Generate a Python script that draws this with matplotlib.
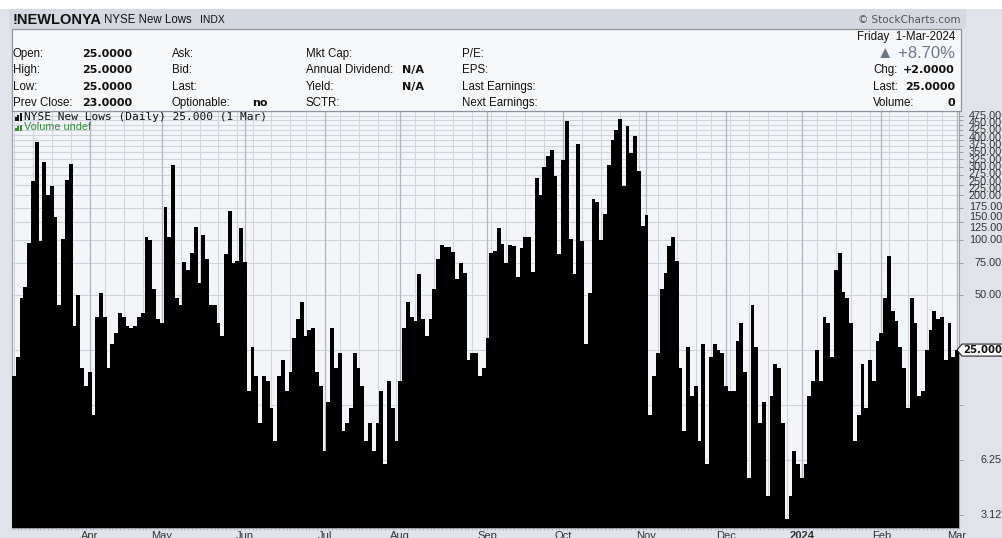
import numpy as np
import pandas as pd
import matplotlib
matplotlib.use("Agg")
import matplotlib.pyplot as plt
from matplotlib.patches import Rectangle, Polygon
from matplotlib.ticker import NullLocator, FixedLocator

# ---------------- data ----------------
new_lows = [
    18, 23, 48, 55, 96, 210, 342, 99, 265, 176,
    197, 133, 44, 101, 213, 260, 34, 50, 20, 16,
    19, 11, 38, 51, 38, 20, 27, 31, 40, 38,
    34, 33, 34, 38, 40, 103, 100, 54, 37, 35,
    152, 103, 255, 48, 44, 76, 68, 85, 117, 58,
    106, 79, 44, 44, 35, 30, 84, 143, 75, 77,
    116, 76, 15, 26, 18, 10, 18, 17, 12, 8,
    18, 22, 15, 19, 29, 37, 46, 30, 32, 33,
    19, 16, 7, 13, 33, 20, 24, 9, 10, 12,
    24, 20, 16, 8, 10, 7, 10, 15, 6, 17,
    12, 8, 17, 33, 46, 38, 36, 65, 37, 30,
    37, 54, 79, 94, 91, 91, 86, 61, 75, 66,
    22, 24, 24, 18, 20, 29, 85, 87, 116, 95,
    75, 94, 93, 63, 90, 103, 103, 67, 218, 175,
    249, 286, 308, 222, 84, 274, 444, 101, 65, 334,
    98, 27, 51, 166, 161, 100, 139, 255, 350, 400,
    458, 197, 417, 298, 368, 239, 119, 137, 11, 18,
    24, 54, 66, 92, 104, 77, 20, 9, 26, 14,
    16, 8, 27, 6, 23, 27, 25, 24, 16, 15,
    15, 28, 35, 19, 5, 44, 26, 10, 13, 4,
    14, 21, 20, 10, 3, 4, 7, 6, 5, 6,
    14, 17, 25, 17, 38, 35, 23, 68, 85, 52,
    48, 35, 8, 11, 21, 12, 22, 17, 28, 31,
    48, 82, 41, 36, 26, 20, 12, 48, 35, 14,
    15, 25, 32, 41, 37, 38, 22, 35, 23, 25,
]
start_date = "2023-03-06"
end_date = "2024-03-01"
market_holidays = ["2023-04-07", "2023-05-29", "2023-06-19", "2023-07-04",
                   "2023-09-04", "2023-11-23", "2023-12-25", "2024-01-01",
                   "2024-01-15", "2024-02-19"]
month_names = ["Jan", "Feb", "Mar", "Apr", "May", "Jun", "Jul", "Aug",
               "Sep", "Oct", "Nov", "Dec"]
right_tick_values = [3.125, 6.25, 12.5, 25, 50, 75, 100, 125, 150, 175, 200,
                     225, 250, 275, 300, 325, 350, 375, 400, 425, 450, 475]
right_tick_labels = ["3.12", "6.25", "", "", "50.00", "75.00", "100.00",
                     "125.00", "150.00", "175.00", "200.00", "225.00",
                     "250.00", "275.00", "300.00", "325.00", "350.00",
                     "375.00", "400.00", "425.00", "450.00", "475.00"]
last_value = 25.0

dates = pd.bdate_range(start_date, end_date)
dates = dates[~dates.isin(pd.to_datetime(market_holidays))]
n = len(new_lows)
dates = dates[:n]

# ---------------- figure ----------------
W, H = 1003, 538
fig = plt.figure(figsize=(W / 100, H / 100), dpi=100)
fig.patch.set_facecolor("#e0e3ea")

def fx(x):
    return x / W

def fy(y):
    return 1 - y / H

def T(x, y, s, **kw):
    kw.setdefault("va", "center")
    kw.setdefault("color", "#111111")
    return fig.text(fx(x), fy(y), s, **kw)

SANS = ["Liberation Sans", "DejaVu Sans"]

# top white strip and header band
fig.add_artist(Rectangle((0, fy(9)), 1, 9 / H, transform=fig.transFigure,
                         facecolor="white", edgecolor="none", zorder=0))
fig.add_artist(Rectangle((fx(9), fy(29)), (966 - 9) / W, 20 / H,
                         transform=fig.transFigure, facecolor="#d4d8e0",
                         edgecolor="none", zorder=0))
# info box
fig.add_artist(Rectangle((fx(12), fy(111)), (961 - 12) / W, (111 - 29) / H,
                         transform=fig.transFigure, facecolor="#f7f8fa",
                         edgecolor="#8d939e", linewidth=0.9, zorder=1))

# title
T(13, 19.5, "!NEWLONYA", family=SANS, fontsize=10.5, fontweight="bold")
T(104, 20, "NYSE New Lows", family=SANS, fontsize=8.3)
T(200, 20, "INDX", family=SANS, fontsize=7.5)
T(961, 20, "\u00a9 StockCharts.com", family=["DejaVu Sans"], fontsize=7.5,
  color="#555555", ha="right")

# info rows
rows_y = [54, 70, 87, 103]
lab = dict(family=SANS, fontsize=8.3)
val = dict(family=["DejaVu Sans"], fontsize=8, fontweight="bold")
for y, l, v in zip(rows_y, ["Open:", "High:", "Low:", "Prev Close:"],
                   ["25.0000", "25.0000", "25.0000", "23.0000"]):
    T(13, y, l, **lab)
    T(82, y, v, **val)
for y, l in zip(rows_y, ["Ask:", "Bid:", "Last:", "Optionable:"]):
    T(172, y, l, **lab)
T(252, 103, "no", **val)
for y, l in zip(rows_y, ["Mkt Cap:", "Annual Dividend:", "Yield:", "SCTR:"]):
    T(306, y, l, **lab)
T(402, 70, "N/A", **val)
T(402, 87, "N/A", **val)
for y, l in zip(rows_y, ["P/E:", "EPS:", "Last Earnings:", "Next Earnings:"]):
    T(462, y, l, **lab)

T(955, 37, "Friday  1-Mar-2024", ha="right", **lab)
T(955, 53, "\u25b2 +8.70%", ha="right", family=["Liberation Sans", "DejaVu Sans"],
  fontsize=12, color="#6c788c")
T(873, 70, "Chg:", **lab)
T(955, 70, "+2.0000", ha="right", **val)
T(873, 87, "Last:", **lab)
T(955, 87, "25.0000", ha="right", **val)
T(873, 103, "Volume:", **lab)
T(955, 103, "0", ha="right", **val)

# ---------------- price panel ----------------
L, R, TOP, BOT = 12, 959, 111, 528
ax = fig.add_axes([fx(L), fy(BOT), (R - L) / W, (BOT - TOP) / H])
ax.set_facecolor("#f3f5f9")
ax.set_yscale("log")
ax.set_xlim(-0.5, n - 0.5)
ax.set_ylim(2.67, 505)

x = np.arange(n)
base = 1.0
ax.bar(x, np.array(new_lows, dtype=float) - base, bottom=base, width=1.0,
       color="black", linewidth=0, antialiased=False, zorder=3)

# grid
for v in right_tick_values:
    ax.axhline(v, color="#cfd3db", linewidth=0.8, zorder=1)
week = dates.isocalendar().week.values
month = dates.month.values
for i in range(n):
    if i > 0 and month[i] != month[i - 1]:
        ax.axvline(i, color="#b0b5bf", linewidth=0.9, zorder=1.5)
    elif i == 0 or week[i] != week[i - 1]:
        ax.axvline(i, color="#d0d4dc", linewidth=0.8, zorder=1)

for s in ax.spines.values():
    s.set_color("#9aa0aa")
    s.set_linewidth(0.8)
ax.yaxis.set_major_locator(FixedLocator(right_tick_values))
ax.yaxis.set_minor_locator(NullLocator())
ax.tick_params(axis="y", which="major", left=False, right=True, labelleft=False,
               labelright=False, length=3, color="#8d939e", width=0.6)
ax.set_xticks(x)
ax.tick_params(axis="x", which="major", bottom=True, labelbottom=False,
               length=1.5, color="#9aa0aa", width=0.5)

# right-axis labels: laid out top-down, crowded labels pushed down
top_disp = H - 114
placed = {}
prev = None
for i in range(len(right_tick_values) - 1, -1, -1):
    lbl = right_tick_labels[i]
    if not lbl:
        continue
    yv = ax.transData.transform((0, right_tick_values[i]))[1]
    yv = min(yv, top_disp)
    if prev is not None:
        g = 7.3 if right_tick_values[i] >= 200 else 10.5
        yv = min(yv, prev - g)
    placed[i] = yv
    prev = yv
for i, yv in placed.items():
    fig.text(1002 / W, yv / H, right_tick_labels[i], ha="right", va="center",
             family=SANS, fontsize=7.8, color="#333333")

# last value tag
yl = ax.transData.transform((0, last_value))[1]
hh = 6
poly = Polygon([(fx(957), yl / H), (fx(962), (yl + hh) / H), (1.0, (yl + hh) / H),
                (1.0, (yl - hh) / H), (fx(962), (yl - hh) / H)], closed=True,
               transform=fig.transFigure, facecolor="white", edgecolor="#222222",
               linewidth=0.8, zorder=5)
fig.add_artist(poly)
fig.text(fx(963), yl / H, f"{last_value:.3f}", ha="left", va="center",
         family=["DejaVu Sans"], fontsize=7.3, fontweight="bold", color="#111111",
         zorder=6)

# month labels
for i in range(n):
    if i > 0 and month[i] != month[i - 1]:
        if month[i] == 1:
            txt, wt = str(dates[i].year), "bold"
        else:
            txt, wt = month_names[month[i] - 1], "normal"
        xd = ax.transData.transform((i, 10))[0]
        fig.text(xd / W, fy(531), txt, ha="center", va="top", family=SANS,
                 fontsize=8, fontweight=wt, color="#333333")

# legend
for k, hgt in enumerate([4, 6, 8]):
    fig.add_artist(Rectangle((fx(15 + k * 2.5), fy(121)), 1.8 / W, hgt / H,
                             transform=fig.transFigure, facecolor="#111111",
                             edgecolor="none", zorder=6))
    fig.add_artist(Rectangle((fx(15 + k * 2.5), fy(131)), 1.8 / W, hgt * 0.8 / H,
                             transform=fig.transFigure, facecolor="#3a8a3a",
                             edgecolor="none", zorder=6))
T(24, 117.5, "NYSE New Lows (Daily) 25.000 (1 Mar)", family=["DejaVu Sans Mono"],
  fontsize=8, zorder=6)
T(24, 127.5, "Volume undef", family=SANS, fontsize=7.8, color="#3a8a3a", zorder=6)

fig.savefig("out.png", dpi=100, facecolor=fig.get_facecolor())
